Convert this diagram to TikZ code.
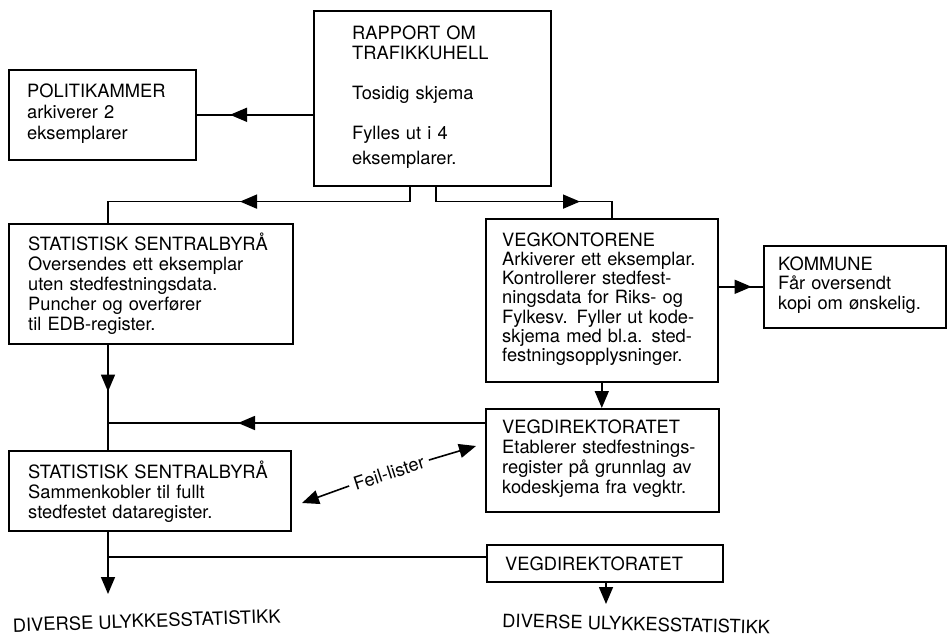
\documentclass[tikz,border=0pt]{standalone}
\usepackage{fontspec}
\setmainfont{TeX Gyre Heros}
\usetikzlibrary{arrows.meta,decorations.markings,calc}
\tikzset{
  box/.style={draw,line width=1.6pt,inner sep=0pt,anchor=north west},
  txt/.style={anchor=base west,inner sep=0pt,text width=#1,align=left,
    font=\fontsize{18.3}{20}\selectfont},
  conn/.style={line width=1.6pt},
  endtip/.style={-{Triangle[length=17pt,width=14pt]}},
  midarr/.style={postaction={decorate},decoration={markings,
    mark=at position #1 with {\arrow{Triangle[length=17pt,width=14pt]}}}},
}
\begin{document}
\begin{tikzpicture}[x=1pt,y=-1pt]
\useasboundingbox (0,0) rectangle (950,637);

% boxes
\node[box,minimum width=237pt,minimum height=175pt] (rap) at (313,10) {};
\node[box,minimum width=187pt,minimum height=90pt] (pol) at (8,69) {};
\node[box,minimum width=284pt,minimum height=120pt] (ssb1) at (8,223) {};
\node[box,minimum width=232pt,minimum height=163pt] (vegk) at (485,218) {};
\node[box,minimum width=182pt,minimum height=82pt] (kom) at (763,245) {};
\node[box,minimum width=233pt,minimum height=103pt] (vegdir) at (485,408) {};
\node[box,minimum width=282pt,minimum height=80pt] (ssb2) at (8,450) {};
\node[box,minimum width=236pt,minimum height=37pt] (vegdir2) at (486,544) {};

% texts
\node[txt=190pt] (raptxt) at (352,39) {RAPPORT OM\\TRAFIKKUHELL\\[20pt]Tosidig skjema\\[20pt]Fylles ut i 4\\[5pt]eksemplarer.};
\node[txt=165pt,font=\fontsize{18.3}{21}\selectfont] (poltxt) at (27,97) {POLITIKAMMER\\arkiverer 2\\eksemplarer};
\node[txt=262pt] (ssb1txt) at (28,250) {STATISTISK SENTRALBYRÅ\\Oversendes ett eksemplar\\uten stedfestningsdata.\\Puncher og overfører\\til EDB-register.};
\node[txt=212pt,font=\fontsize{18.3}{19.3}\selectfont] (vegktxt) at (502,246) {VEGKONTORENE\\Arkiverer ett eksemplar.\\Kontrollerer stedfest-\\ningsdata for Riks- og\\Fylkesv. Fyller ut kode-\\skjema med bl.a. sted-\\festningsopplysninger.};
\node[txt=165pt,font=\fontsize{18.3}{19.5}\selectfont] (komtxt) at (778,270) {KOMMUNE\\Får oversendt\\kopi om ønskelig.};
\node[txt=212pt] (vegdirtxt) at (502,433) {VEGDIREKTORATET\\Etablerer stedfestnings-\\register på grunnlag av\\kodeskjema fra vegktr.};
\node[txt=258pt] (ssb2txt) at (28,478) {STATISTISK SENTRALBYRÅ\\Sammenkobler til fullt\\stedfestet dataregister.};
\node[txt=205pt] (vegdir2txt) at (505,570) {VEGDIREKTORATET};
\node[anchor=base west,inner sep=0pt,rotate=2,font=\fontsize{18.3}{20}\selectfont] (div1) at (13,632) {DIVERSE ULYKKESSTATISTIKK};
\node[anchor=base west,inner sep=0pt,rotate=-1.5,font=\fontsize{18.3}{20}\selectfont] (div2) at (502,627) {DIVERSE ULYKKESSTATISTIKK};
\node[inner sep=5pt,rotate=18,font=\fontsize{18.3}{20}\selectfont] (feil) at (389,473) {Feil-lister};

% connectors
\draw[conn,midarr=83pt] (rap.west |- pol.east) -- (pol.east);
\draw[conn,midarr=185pt] ($(rap.south west)+(97,0)$) -- ++(0,15) -| ($(ssb1.north west)+(100,0)$);
\draw[conn,midarr=159pt] ($(rap.south west)+(123,0)$) -- ++(0,15) -| ($(vegk.north west)+(127,0)$);
\draw[conn,midarr=47pt] ($(ssb1.south west)+(100,0)$) -- ($(ssb2.north west)+(100,0)$);
\coordinate (j1) at (108,423);
\draw[conn,midarr=247pt] ($(vegdir.north west)+(0,15)$) -- (j1);
\coordinate (e1) at (108,594);
\draw[conn,endtip] ($(ssb2.south west)+(100,0)$) -- (e1);
\coordinate (j2) at (108,557);
\draw[conn] ($(vegdir2.north west)+(0,13)$) -- (j2);
\draw[conn,midarr=33pt] (vegk.east |- kom.west) -- (kom.west);
\draw[conn,endtip] (vegk.south) -- (vegk.south |- vegdir.north);
\coordinate (e2) at (606,604);
\draw[conn,endtip] (vegdir2.south -| e2) -- (e2);
\coordinate (fl) at (302,503);
\coordinate (fr) at (476,446);
\draw[conn,endtip] (feil.west) -- (fl);
\draw[conn,endtip] (feil.east) -- (fr);
\end{tikzpicture}
\end{document}
